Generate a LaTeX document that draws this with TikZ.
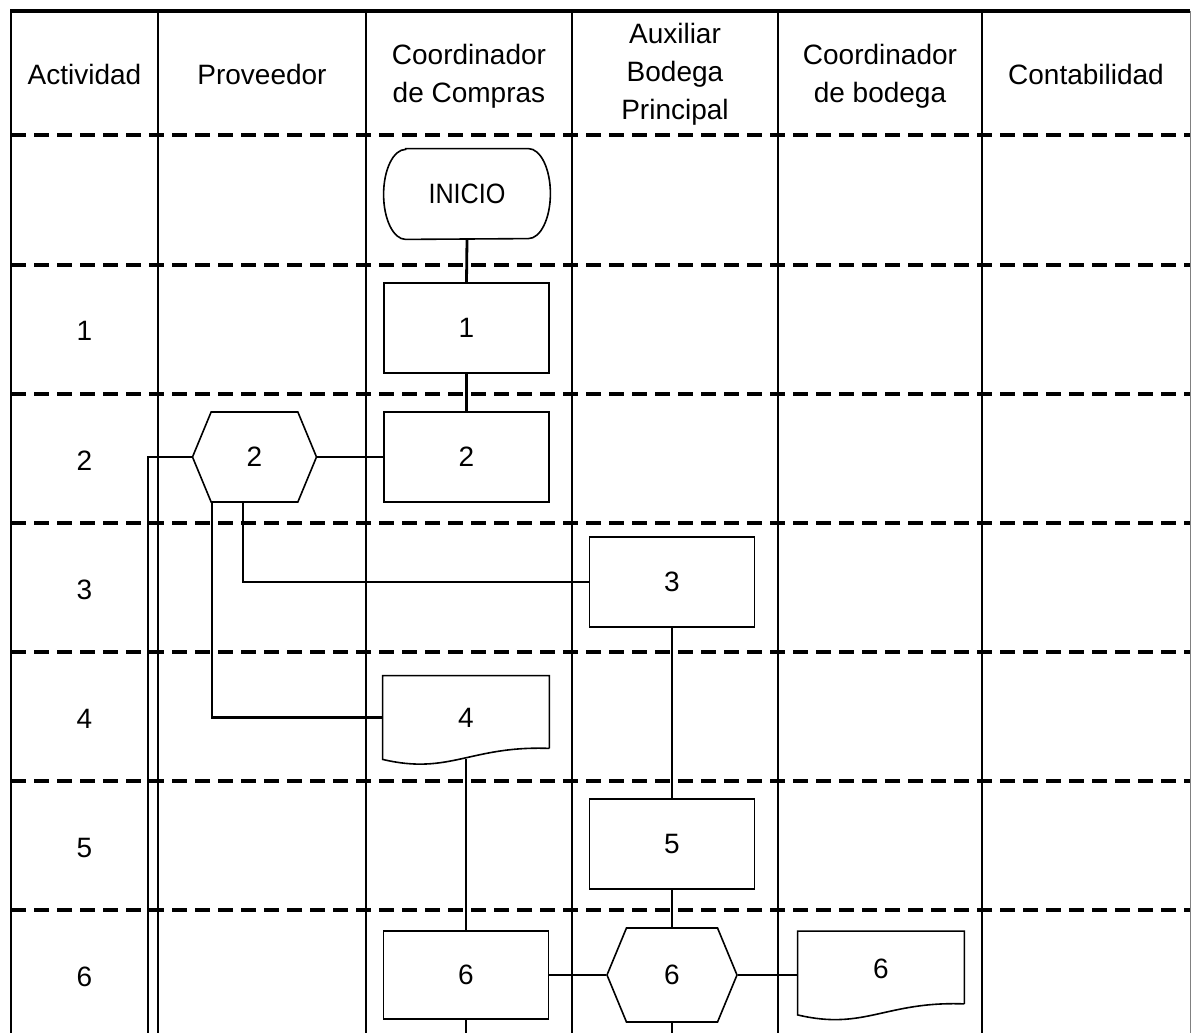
\documentclass[tikz,border=0pt]{standalone}
\usepackage{fontspec}
\setmainfont{Liberation Sans}
\usepackage{tikz}
\usetikzlibrary{calc}
\usetikzlibrary{shapes.symbols}

\tikzset{
	proc/.style={draw, line width=0.8pt, minimum width=82.5pt, minimum height=45pt, inner sep=0pt},
	hexa/.style={draw, line width=0.8pt, signal, signal to=east and west, signal pointer angle=135, minimum width=62pt, minimum height=45pt, inner sep=0pt},
	docbox/.style={minimum width=83pt, minimum height=41.5pt, inner sep=0pt},
	link/.style={line width=1.4pt},
	lane/.style={line width=1.4pt},
	sep/.style={line width=1.9pt, dash pattern=on 7.5pt off 4pt},
	head/.style={align=center}
}

% document symbol with a wavy bottom edge round a docbox node
\newcommand{\docshape}[1]{%
	\draw[line width=0.8pt] ($(#1.south east)+(0,-11)$) -- (#1.north east) -- (#1.north west) -- (#1.south west)
		.. controls ($(#1.south west)+(67,16)$) and ($(#1.south east)+(-79,-14)$) .. ($(#1.south east)+(0,-11)$);}

\begin{document}
\begin{tikzpicture}[x=0.5pt, y=-0.5pt, font=\fontsize{14}{19}\selectfont]
			\useasboundingbox (0,0) rectangle (1191,1033);

			% rows
			\foreach \y in {135,265,394,523,652,781,910}
				\draw[sep] (11,\y) -- (1190,\y);

			% lanes
			\draw[line width=1.8pt] (10,11) -- (1190,11);
			\draw[line width=0.9pt] (11,11) -- (11,1033);
			\draw[line width=0.5pt, gray] (1190,11) -- (1190,1033);
			\foreach \x in {158,366,572,778,982}
				\draw[lane] (\x,11) -- (\x,1033);

			\node[head] (hact) at (84.5,74) {Actividad};
			\node[head] (hprov) at (262,74) {Proveedor};
			\node[head] (hcomp) at (469,76) {Coordinador\\de Compras};
			\node[head] (haux) at (675,74) {Auxiliar\\Bodega\\Principal};
			\node[head] (hbod) at (880,76) {Coordinador\\de bodega};
			\node[head] (hcont) at (1086,74) {Contabilidad};

			\foreach \n/\y in {1/331, 2/461, 3/590, 4/719, 5/848, 6/977}
				\node (act\n) at (84.5,\y) {\n};

			% shapes
			\node[minimum width=83pt, minimum height=45pt, inner sep=0pt] (inicio) at (467,194) {\scalebox{0.9}[1]{INICIO}};
			\draw[line width=0.8pt] ($(inicio.north west)+(22,0)$) -- ($(inicio.north east)+(-22,0)$)
				arc[start angle=90, end angle=-90, x radius=11pt, y radius=22.5pt]
				-- ($(inicio.south west)+(22,0)$)
				arc[start angle=270, end angle=90, x radius=11pt, y radius=22.5pt] -- cycle;

			\node[proc] (c1) at (466.5,328) {1};
			\node[proc] (c2) at (466.5,457) {2};
			\node[hexa] (hx2) at (254.5,457) {2};
			\node[proc] (c3) at (672,582) {3};
			\node[docbox] (d4) at (466,717.5) {4};
			\docshape{d4}
			\node[proc] (c5) at (672,844) {5};
			\node[proc, minimum height=44pt] (c6) at (466,975) {6};
			\node[hexa, minimum width=65pt, minimum height=47pt] (hx6) at (672,975) {6};
			\node[docbox] (d6) at (881,973) {\raisebox{4pt}{6}};
			\docshape{d6}

			\coordinate (endA) at (148,1033);
			\coordinate (endB) at (466,1033);
			\coordinate (endC) at (672,1033);

			% links
			\draw[link] (inicio.south) -- (c1.north);
			\draw[link] (c1.south) -- (c2.north);
			\draw[link] (hx2.east) -- (c2.west);
			\draw[link] (hx2.west) -| (endA);
			\draw[link] ($(hx2.south)+(-42.5,0)$) |- (d4.west);
			\draw[link] ($(hx2.south)+(-11.5,0)$) |- (c3.west);
			\draw[link] (c3.south) -- (c5.north);
			\draw[link] (d4.south) -- (c6.north);
			\draw[link] (c5.south) -- (hx6.north);
			\draw[link] (c6.east) -- (hx6.west);
			\draw[link] (hx6.east) -- (hx6.east -| d6.west);
			\draw[link] (c6.south) -- (endB);
			\draw[link] (hx6.south) -- (endC);
		\end{tikzpicture}
\end{document}
